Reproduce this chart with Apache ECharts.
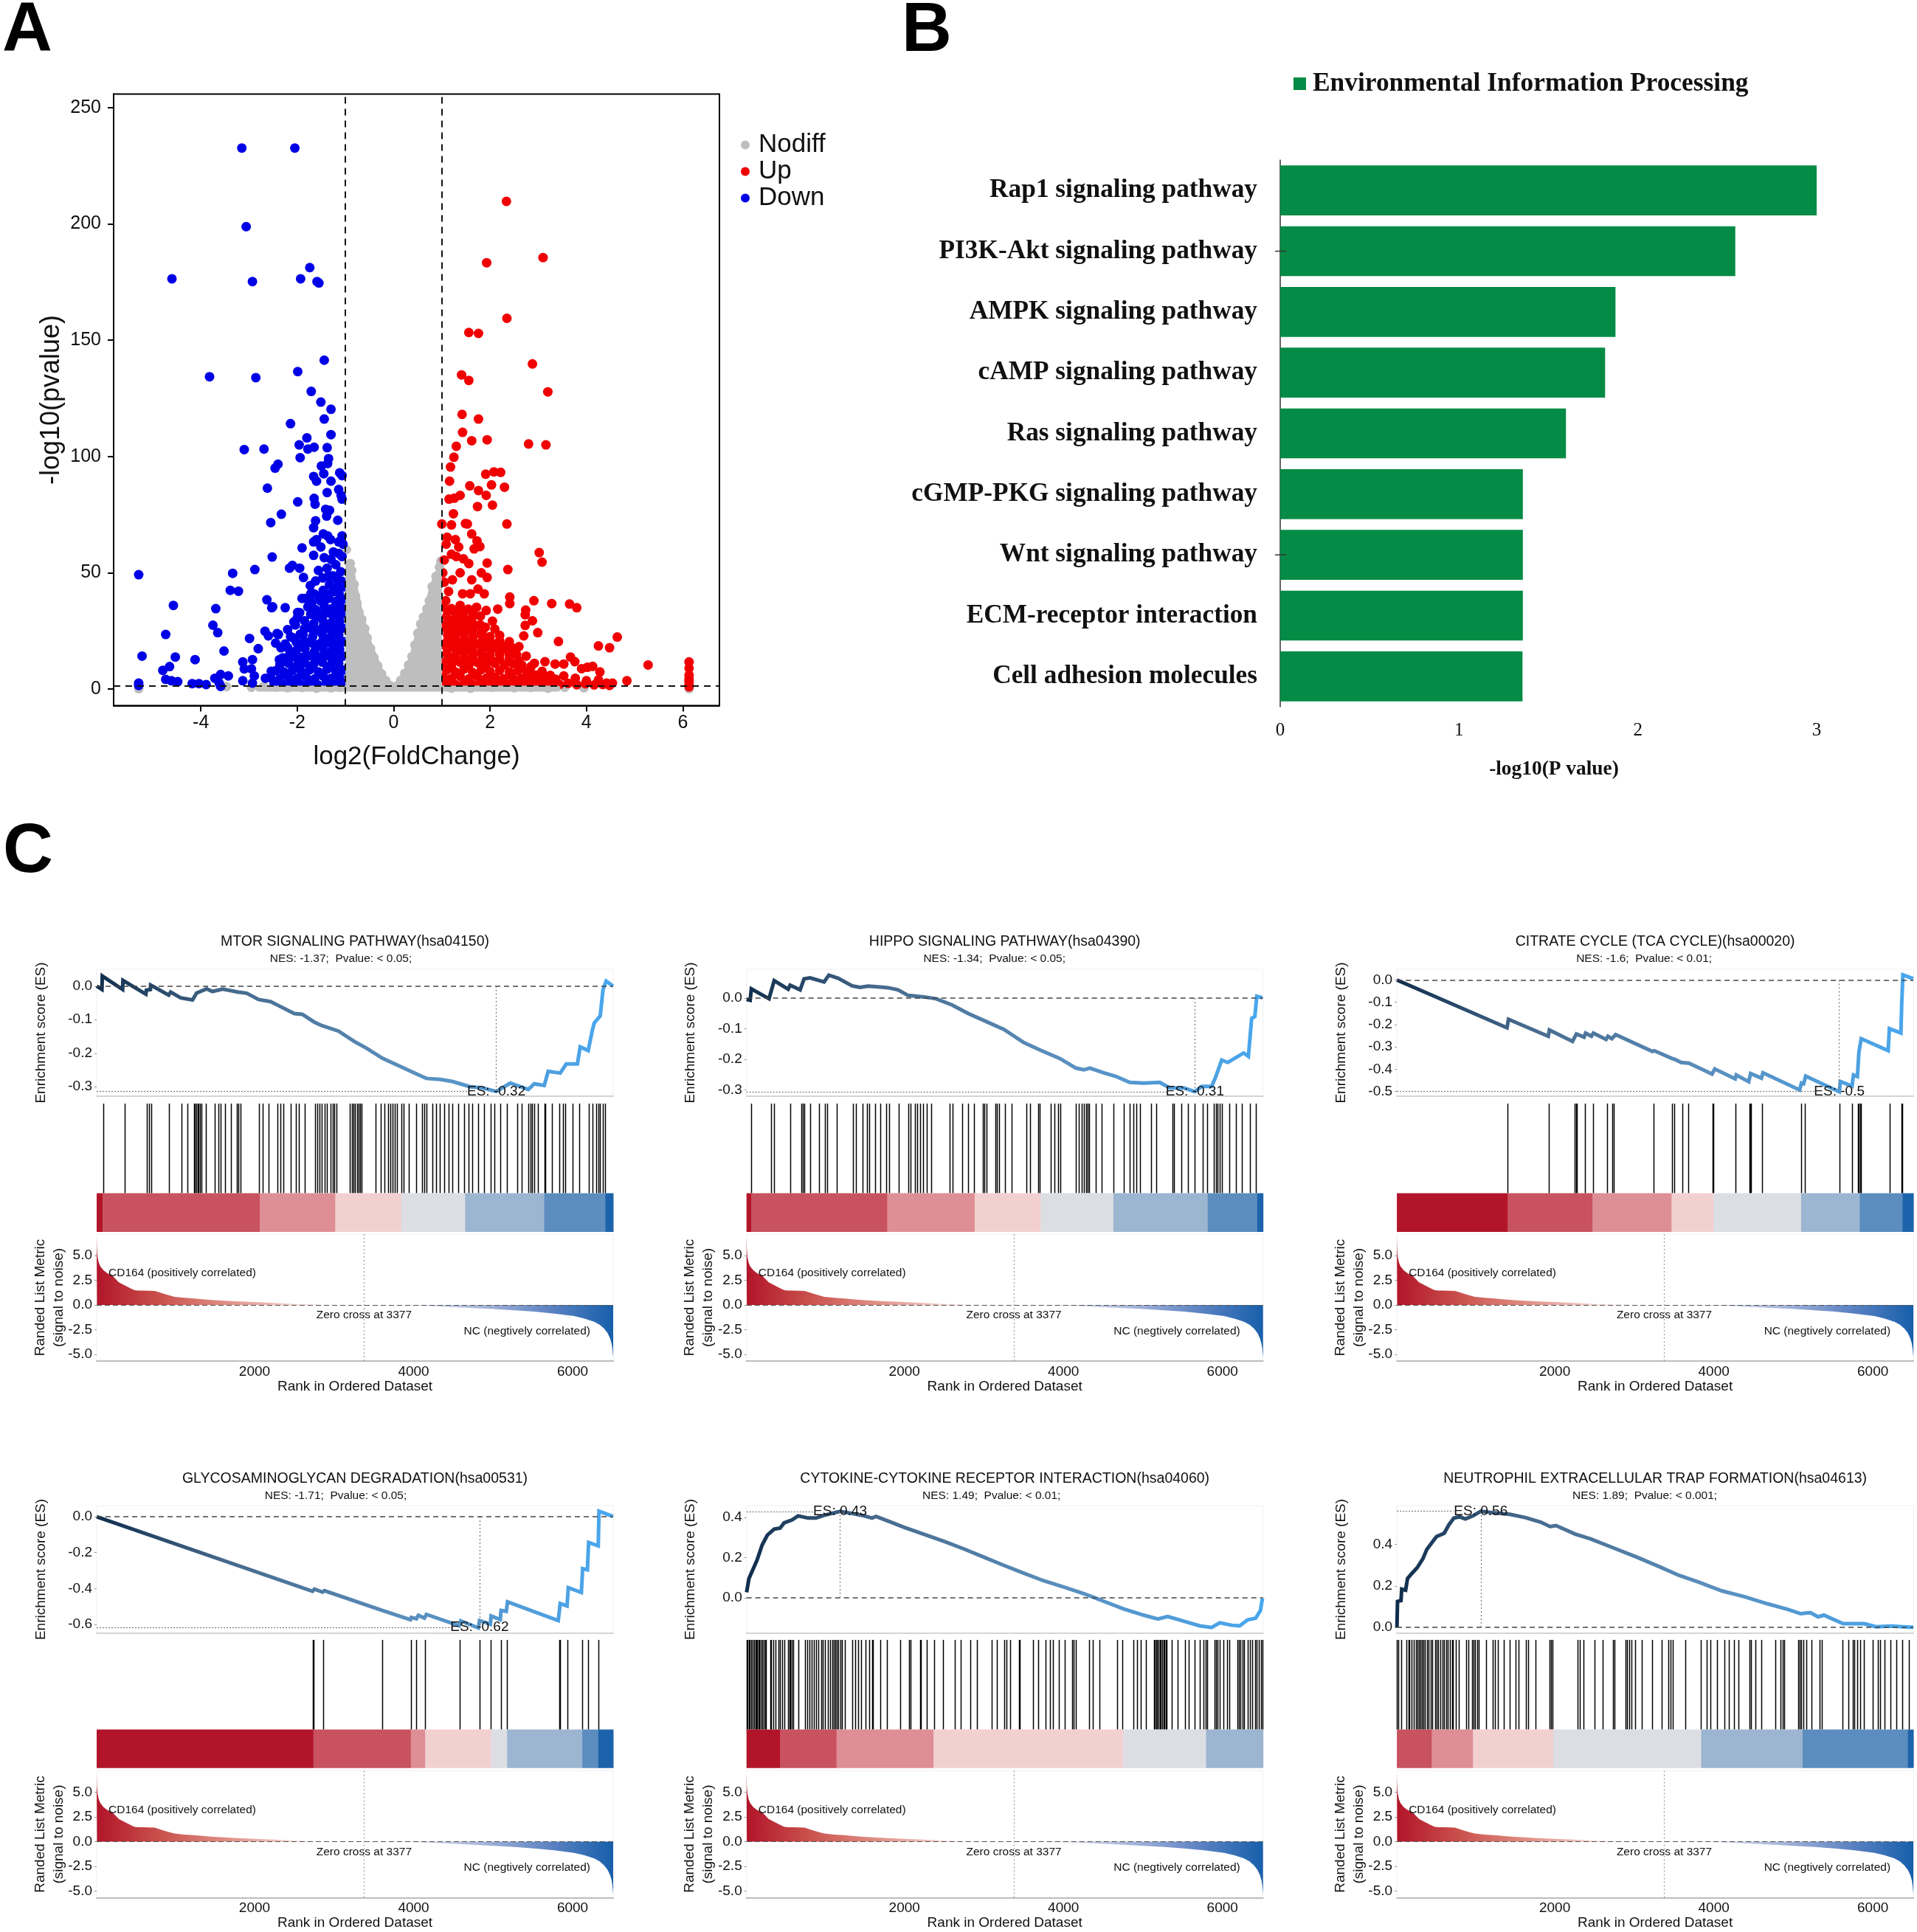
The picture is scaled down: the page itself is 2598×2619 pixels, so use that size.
<!DOCTYPE html>
<html>
<head>
<meta charset="utf-8">
<title>Volcano, pathway bars and GSEA panels</title>
<script src="https://cdn.jsdelivr.net/npm/echarts@6/dist/echarts.min.js"></script>
<style>
html, body { margin: 0; padding: 0; background: #fff; }
#main { width: 2598px; height: 2619px; }
</style>
</head>
<body>
<div id="main"></div>
<script>
// panel A, volcano points [log2FC, -log10p]
var volcanoDown = [
    [-3.15,232.6],[-2.05,232.6],[-3.06,198.8],[-1.74,181.2],[-1.93,176.4],[-4.6,176.4],[-2.93,175.2],[-1.59,175.2],[-1.55,174.6],
    [-1.44,141.4],[-1.99,136.5],[-3.82,134.3],[-2.86,133.9],[-1.71,128],[-1.51,123.4],[-1.3,120.3],[-1.44,116.1],[-2.14,114.1],
    [-1.3,109.4],[-1.8,108],[-1.96,105],[-1.65,104],[-1.78,103.2],[-3.1,103],[-2.69,103.2],[-1.38,103.8],[-1.94,99.5],[-1.35,99.1],
    [-1.37,97],[-1.5,95.9],[-2.4,96.7],[-2.46,95],[-1.12,93],[-1.07,91.8],[-1.45,92.6],[-1.66,91.4],[-1.6,89.4],[-1.3,89.4],
    [-2.62,86.4],[-1.14,85.8],[-1.38,84.5],[-1.09,83.3],[-1.07,81.7],[-1.65,82],[-1.99,80.5],[-1.63,79.5],[-1.41,77.3],[-1.33,76.9],
    [-2.33,75.2],[-1.39,74.4],[-1.62,72.4],[-1.16,72.6],[-2.55,71.6],[-1.66,69.4],[-1.46,66.7],[-1.37,65.9],[-1.07,65.9],
    [-1.66,63.3],[-1.6,64.3],[-1.31,64.3],[-1.14,63.3],[-1.05,62.3],[-1.9,60.7],[-1.51,61.1],[-1.25,59],[-1.14,58.3],
    [-1.66,57.5],[-1.44,56.5],[-1.3,55.8],[-1.07,57],[-1.2,53.5],[-1.38,52],[-1.56,51],[-1.1,50.5],[-1.26,48.7],[-1.47,47.8],
    [-1.62,46.5],[-1.08,46.4],[-1.33,45],[-1.18,43.8],[-1.73,44.5],[-1.02,44],[-2.52,56.8],[-3.34,49.8],[-2.88,51.4],[-5.29,49.2],
    [-2.1,53.2],[-2.16,52],[-1.95,52],[-1.87,48],[-1.65,41],[-1.46,42.5],[-3.39,42.5],[-3.22,42.1],[-4.57,36],[-3.69,34.6],
    [-2.63,38.4],[-2.53,35],[-2.51,35.4],[-2.25,35],[-1.9,39],[-1.83,39],
    [-1.05,38.6],[-1.2,37.7],[-1.35,39],[-1.52,38],[-1.7,37.2],[-1.1,35.2],[-1.28,34.6],[-1.44,35.8],[-1.62,34.2],[-1.78,35.4],
    [-1.04,32.4],[-1.18,31.6],[-1.36,32.8],[-1.55,31.2],[-1.72,32.2],[-1.95,32.9],[-2.0,30.6],[-1.12,29.2],[-1.3,28.4],[-1.47,29.6],
    [-1.66,28.2],[-1.85,29.4],[-1.05,26.2],[-1.22,25.4],[-1.38,26.6],[-1.57,25.2],[-1.76,26.4],[-2.04,27.6],[-1.14,23.2],[-1.3,22.4],
    [-1.48,23.6],[-1.68,22.6],[-1.88,23.4],[-2.1,22.2],[-1.04,20.4],[-1.2,19.6],[-1.4,20.8],[-1.58,19.2],[-1.75,20.2],[-1.95,19.4],
    [-1.12,17.2],[-1.28,16.4],[-1.46,17.6],[-1.64,16.2],[-1.84,17.4],[-2.02,16.6],[-1.05,14.2],[-1.22,13.4],[-1.38,14.6],[-1.56,13.2],
    [-1.72,14.4],[-1.92,13.6],[-2.12,14.1],[-2.3,13.5],[-1.14,11.2],[-1.3,10.4],[-1.48,11.6],[-1.66,10.6],[-1.84,11.3],[-2.0,10.2],
    [-2.18,11.1],[-2.36,10.5],[-1.04,8.2],[-1.2,7.6],[-1.38,8.6],[-1.56,7.4],[-1.74,8.3],[-1.92,7.7],[-2.1,8.1],[-2.28,7.4],[-2.45,7.9],
    [-1.12,5.2],[-1.3,4.6],[-1.46,5.6],[-1.64,4.4],[-1.82,5.3],[-2,4.7],[-2.18,5.1],[-2.36,4.5],[-2.55,4.9],[-1.05,2.5],[-1.22,2.1],
    [-1.4,2.8],[-1.58,1.9],[-1.76,2.6],[-1.94,2.2],[-2.12,2.7],[-2.3,2.0],[-2.48,2.4],
    [-1.13,41],[-1.27,41.8],[-1.4,40.6],[-1.13,33],[-1.27,31.8],[-1.45,33],[-1.62,31.6],[-1.13,26.8],[-1.3,25.2],[-1.47,26.6],[-1.66,25.2],[-1.85,26],
    [-1.1,20.6],[-1.3,19.6],[-1.48,20.4],[-1.66,19.4],[-1.85,20.4],[-2.02,20.2],[-1.13,14.6],[-1.3,13.6],[-1.47,14.4],[-1.64,13.4],[-1.82,14.2],[-2.02,13.6],
    [-2.2,17.8],[-1.94,23.6],[-1.56,40],[-1.72,41],[-1.35,48.6],[-1.18,47.4],
    [-3.75,27.5],[-3.65,24.3],[-4.73,23.5],[-2.99,21.8],[-2.81,17.4],[-3.52,16.4],[-2.67,24.9],[-2.6,22.9],[-2.42,23.9],[-2.39,23.5],
    [-4.53,13.8],[-5.22,14.2],[-4.12,12.7],[-4.65,9.7],[-4.79,8.1],[-4.73,4.2],[-4.61,3.6],[-4.48,3.2],[-4.18,2.4],[-4.04,2.4],
    [-3.89,2],[-5.29,2.6],[-5.29,1.6],[-3.71,4.7],[-3.59,6.3],[-3.43,5.7],[-3.62,2.6],[-3.59,1.2],[-3.13,11.7],[-2.93,12.7],[-3.1,8.7],
    [-2.95,8.7],[-2.89,5.7],[-3.13,3.6],[-2.93,2.6],[-2.66,4.7],[-2.54,7.7],[-2.25,19.4],[-2.45,19.8],[-2.34,17.8],[-2.15,15.4],[-2.37,12.7],
    [-2.07,28.9],[-1.99,33],[-2.2,25.6],[-2.14,22.6]
];
var volcanoUp = [
    [2.34,209.7],[3.1,185.5],[1.93,183.3],[2.35,159.4],[1.56,153.3],[1.76,152.9],[2.88,139.8],[1.41,135.1],[1.56,132.7],[3.2,127.8],
    [1.42,118.1],[1.76,116.1],[1.43,110.4],[1.62,106.8],[1.94,107.2],[2.8,105.4],[3.16,105],[1.3,104.4],[1.25,99.7],[1.18,95.5],
    [2.08,93.4],[2.22,93.2],[1.91,92.4],[1.16,89.4],[1.58,87.4],[2.03,87.8],[2.3,86.8],[1.76,85.4],[1.38,83.3],[1.26,82.1],[1.15,81.7],
    [1.92,83.3],[1.74,78.5],[2.05,79.1],[1.24,75.4],[2.35,71],[1.0,71],[1.2,70.6],[1.49,71.2],[1.53,71],[1.62,66.7],
    [1.11,65.3],[1.28,64.3],[1.73,63.7],[1.35,61.1],[1.09,62.3],[1.67,60.3],[1.79,61.3],[1.2,58],[1.3,57],[1.45,56],[1.05,55.5],
    [1.02,50],[1.56,54],[1.38,50],[1.22,47],[1.05,46],[1.62,47],[1.82,50],[1.94,48],[1.59,41],[1.43,41],[1.14,42],[1.08,38],[1.75,43],[1.88,41],
    [3.02,58.7],[3.08,54.6],[1.94,54.2],[2.37,51.4],[2.41,39.6],[2.41,36.8],[2.91,38],[3.28,36.8],[3.65,36.6],[3.8,35],
    [2.74,34],[2.73,32],[2.88,29.4],[2.73,27.4],[2.99,24.3],[2.7,22.9],[3.42,20.5],[4.64,22.4],[4.25,18.6],[4.48,17.8],
    [5.28,10.4],[4.84,3.6],[6.13,11.7],[6.13,9],[6.13,6],[6.13,4.4],[6.13,3.2],[6.13,2],[6.13,1],
    [3.67,13.8],[3.76,11.8],[3.14,11.8],[3.35,10.8],[3.53,10.8],[3.9,8.8],[4.02,9.4],[4.13,9.8],[4.28,7.4],[3.53,5.7],[3.77,4.7],[4.0,3.6],
    [4.25,4],[4.42,2.6],[4.54,2.6],[4.48,1.6],[3.08,7.7],[2.85,9.7],[2.92,11.1],
    [1.03,35.4],[1.2,34.6],[1.38,36],[1.55,34.4],[1.72,35.2],[1.92,33.8],[2.16,34.4],[1.1,31.2],[1.28,30.4],[1.45,31.6],[1.62,30.2],[1.8,31.4],[2.05,29.2],
    [1.04,27.2],[1.2,26.4],[1.36,27.6],[1.52,26.2],[1.7,27.4],[1.9,26.6],[2.1,25.8],[1.12,23.2],[1.28,22.4],[1.46,23.6],[1.64,22.2],[1.82,23.4],[2.0,22.6],[2.2,23.1],[2.4,20.4],
    [1.03,19.2],[1.2,18.4],[1.38,19.6],[1.56,18.2],[1.74,19.4],[1.92,18.6],[2.12,19.1],[2.3,18.4],[2.45,17.9],[2.6,18.3],
    [1.1,15.2],[1.28,14.4],[1.46,15.6],[1.64,14.2],[1.82,15.4],[2,14.6],[2.2,15.1],[2.4,14.4],[2.55,14.9],[2.75,14.2],
    [1.03,11.2],[1.2,10.4],[1.38,11.6],[1.56,10.2],[1.74,11.4],[1.92,10.6],[2.1,11.1],[2.3,10.4],[2.48,11],[2.66,10.3],[2.85,6.8],
    [1.1,8.2],[1.28,7.4],[1.46,8.6],[1.64,7.2],[1.82,8.4],[2,7.6],[2.2,8.1],[2.4,7.4],[2.58,8],[2.76,7.3],[2.95,6.1],[3.1,5.4],[3.25,5.9],
    [1.03,5.2],[1.2,4.6],[1.38,5.6],[1.56,4.4],[1.74,5.3],[1.92,4.7],[2.1,5.1],[2.28,4.5],[2.46,5.2],[2.64,4.6],[2.82,5],[3,4.4],[3.18,4.9],[3.36,4.3],
    [1.1,2.5],[1.28,2],[1.46,2.8],[1.64,1.9],[1.82,2.6],[2,2.1],[2.18,2.7],[2.36,2],[2.54,2.6],[2.72,2],[2.9,2.5],[3.08,1.9],[3.26,2.4],[3.44,2],[3.62,2.5],[3.8,1.9],[3.98,2.3],[4.16,1.8],[4.34,2],
    [1.12,33.4],[1.28,33],[1.46,33.6],[1.64,33],[1.12,29],[1.28,28.6],[1.46,29.2],[1.62,28.4],[1.8,27.6],[1.12,25],[1.3,24.6],[1.46,25.4],[1.64,24.8],[1.84,25],
    [1.12,20.8],[1.3,20.4],[1.46,21],[1.64,20.4],[1.84,20.8],[2.02,20.2],[2.2,20.8],[1.12,17.2],[1.3,16.6],[1.46,17.4],[1.64,16.6],[1.84,17.2],[2.02,16.8],[2.2,17],[2.38,16.4],
    [1.12,12.8],[1.3,12.4],[1.46,13],[1.64,12.4],[1.84,13],[2.02,12.6],[2.2,13],[2.4,12.4],[2.6,12.2]
];
var volcanoNodiff = [
    [-5.29,0.2],[-3.47,1.1],[-2.95,0.8],[-2.7,1.2],[-2.45,0.9],[-2.2,0.6],[-1.9,0.7],[-1.6,0.4],[-1.3,0.6],[-1.12,0.8],[1.2,0.5],[1.6,0.4],
    [2.05,0.8],[2.5,0.6],[2.85,0.7],[3.2,0.4],[3.55,0.8],[3.95,0.6],[6.13,0.2],
    [-0.98,60],[-0.9,54],[-0.87,51],[-0.82,45],[-0.79,40],[-0.76,37],[-0.72,33],[-0.66,30],[-0.6,26],[-0.55,22],[-0.48,17.5],[-0.41,13.6],[-0.33,10],[-0.25,6.5],
    [-0.16,3.6],[-0.08,1.6],[0.08,1.5],[0.15,3.8],[0.23,6.8],[0.31,10.4],[0.38,14],[0.44,19],[0.5,24],[0.56,28],[0.62,31],[0.69,34.5],[0.74,38],[0.8,44],[0.88,48.5],[0.95,52.5],[0.98,55]
];
var greyEnvelopeX = [-1, -0.9, -0.8, -0.7, -0.6, -0.5, -0.4, -0.3, -0.2, -0.1, 0, 0.1, 0.2, 0.3, 0.4, 0.5, 0.6, 0.7, 0.8, 0.9, 1];
var greyEnvelopeY = [55, 53, 43, 33, 26, 19, 14, 9, 5, 2, 0, 2, 5, 9, 15, 23, 29, 35, 44, 49, 54];
var greyFloorX = [-2.8, -2, -1, 0, 1, 2, 3, 3.4];
var greyFloorY = [0.2, 0.2, 0.2, 0.2, 0.2, 0.2, 0.2, 0.2];
var volcanoXTicks = [-4, -2, 0, 2, 4, 6];
var volcanoYTicks = [0, 50, 100, 150, 200, 250];

// panel B
var barNames = ['Rap1 signaling pathway', 'PI3K-Akt signaling pathway', 'AMPK signaling pathway', 'cAMP signaling pathway',
    'Ras signaling pathway', 'cGMP-PKG signaling pathway', 'Wnt signaling pathway', 'ECM-receptor interaction', 'Cell adhesion molecules'];
var barValues = [3.005, 2.545, 1.875, 1.817, 1.598, 1.357, 1.357, 1.357, 1.355];
var barStrayTicks = [1, 6];

// panel C
var gseaTitles = ['MTOR SIGNALING PATHWAY(hsa04150)', 'HIPPO SIGNALING PATHWAY(hsa04390)', 'CITRATE CYCLE (TCA CYCLE)(hsa00020)',
    'GLYCOSAMINOGLYCAN DEGRADATION(hsa00531)', 'CYTOKINE-CYTOKINE RECEPTOR INTERACTION(hsa04060)', 'NEUTROPHIL EXTRACELLULAR TRAP FORMATION(hsa04613)'];
var gseaStats = ['NES: -1.37;  Pvalue: < 0.05;', 'NES: -1.34;  Pvalue: < 0.05;', 'NES: -1.6;  Pvalue: < 0.01;',
    'NES: -1.71;  Pvalue: < 0.05;', 'NES: 1.49;  Pvalue: < 0.01;', 'NES: 1.89;  Pvalue: < 0.001;'];
var esLabels = ['ES: -0.32', 'ES: -0.31', 'ES: -0.5', 'ES: -0.62', 'ES: 0.43', 'ES: 0.56'];
var esPeakRank = [5040, 5653, 5578, 4829, 1191, 1069];
var esPeakValue = [-0.314, -0.305, -0.5, -0.617, 0.43, 0.559];
var esLineEnd = [4688, 5320, 5277, 4487, 865, 730];
var esMin = [-0.328, -0.32, -0.521, -0.649, -0.177, -0.028];
var esMax = [0.05, 0.094, 0.048, 0.062, 0.459, 0.586];
var esTicks = [[0, -0.1, -0.2, -0.3], [0, -0.1, -0.2, -0.3], [0, -0.1, -0.2, -0.3, -0.4, -0.5],
    [0, -0.2, -0.4, -0.6], [0, 0.2, 0.4], [0, 0.2, 0.4]];

var esCurve1 = [[15,0],[80,-0.01],[85,0.03],[340,-0.01],[345,0.017],[633,-0.024],[640,-0.012],[690,-0.01],[693,0.003],[920,-0.027],[945,-0.018],[1070,-0.035],[1220,-0.041],[1270,-0.021],[1397,-0.008],[1470,-0.016],[1598,-0.009],[1800,-0.018],[1900,-0.021],[2050,-0.04],[2200,-0.046],[2300,-0.058],[2500,-0.082],[2600,-0.084],[2750,-0.107],[2850,-0.118],[3055,-0.134],[3256,-0.165],[3407,-0.185],[3608,-0.215],[3809,-0.237],[4010,-0.259],[4160,-0.275],[4337,-0.278],[4487,-0.284],[4714,-0.3],[4864,-0.303],[5040,-0.314],[5216,-0.289],[5442,-0.308],[5518,-0.291],[5643,-0.296],[5693,-0.254],[5844,-0.259],[5920,-0.232],[6060,-0.232],[6095,-0.181],[6196,-0.192],[6246,-0.134],[6271,-0.11],[6347,-0.089],[6382,-0.011],[6422,0.015],[6508,0]];
var esCurve2 = [[15,-0.004],[60,-0.007],[75,0.03],[297,-0.002],[362,0.057],[538,0.029],[563,0.042],[688,0.027],[738,0.063],[814,0.066],[990,0.053],[1050,0.075],[1166,0.065],[1342,0.04],[1442,0.035],[1543,0.039],[1693,0.036],[1794,0.034],[1920,0.027],[2045,0.009],[2246,0.004],[2397,-0.002],[2598,-0.022],[2799,-0.05],[3000,-0.073],[3251,-0.102],[3502,-0.145],[3703,-0.169],[3955,-0.197],[4156,-0.228],[4256,-0.234],[4332,-0.228],[4508,-0.244],[4658,-0.255],[4834,-0.275],[5010,-0.277],[5211,-0.275],[5337,-0.293],[5513,-0.293],[5653,-0.305],[5739,-0.288],[5864,-0.288],[5915,-0.257],[5990,-0.202],[6065,-0.21],[6266,-0.179],[6326,-0.19],[6367,-0.066],[6407,-0.06],[6432,0.006],[6503,0.001]];
var esCurve3 = [[15,0],[1399,-0.214],[1418,-0.176],[1918,-0.252],[1932,-0.224],[2223,-0.275],[2271,-0.242],[2368,-0.256],[2388,-0.238],[2461,-0.252],[2485,-0.238],[2645,-0.266],[2669,-0.252],[2717,-0.263],[2766,-0.245],[3227,-0.32],[3251,-0.317],[3469,-0.351],[3517,-0.357],[3590,-0.37],[3687,-0.373],[3978,-0.422],[4012,-0.399],[4269,-0.443],[4283,-0.426],[4439,-0.456],[4463,-0.419],[4599,-0.44],[4618,-0.416],[5079,-0.493],[5103,-0.462],[5130,-0.465],[5156,-0.431],[5578,-0.501],[5592,-0.455],[5738,-0.476],[5757,-0.426],[5806,-0.433],[5825,-0.323],[5854,-0.263],[6193,-0.317],[6208,-0.218],[6353,-0.238],[6363,-0.11],[6378,0.023],[6508,0.006]];
var esCurve4 = [[15,0],[2729,-0.415],[2754,-0.403],[2854,-0.42],[2879,-0.412],[3608,-0.522],[3960,-0.573],[3970,-0.561],[4035,-0.568],[4060,-0.549],[4136,-0.565],[4161,-0.544],[4573,-0.607],[4593,-0.58],[4814,-0.619],[4829,-0.578],[4965,-0.599],[4975,-0.553],[5090,-0.573],[5100,-0.522],[5166,-0.527],[5181,-0.474],[5819,-0.578],[5844,-0.483],[5930,-0.497],[5945,-0.395],[6110,-0.422],[6126,-0.289],[6186,-0.296],[6201,-0.143],[6322,-0.162],[6332,0.031],[6508,0.002]];
var esCurve5 = [[15,0.027],[45,0.096],[95,0.141],[146,0.187],[211,0.263],[276,0.312],[362,0.342],[437,0.347],[487,0.373],[588,0.388],[663,0.408],[789,0.397],[889,0.397],[990,0.411],[1191,0.43],[1342,0.42],[1492,0.408],[1593,0.397],[1643,0.405],[1794,0.382],[1995,0.351],[2246,0.316],[2497,0.281],[2749,0.243],[3000,0.202],[3251,0.161],[3502,0.122],[3754,0.084],[4005,0.053],[4256,0.02],[4382,0.002],[4508,-0.018],[4759,-0.056],[5010,-0.087],[5186,-0.106],[5312,-0.094],[5513,-0.117],[5714,-0.14],[5864,-0.148],[5965,-0.125],[6116,-0.137],[6216,-0.14],[6317,-0.11],[6417,-0.102],[6477,-0.064],[6503,-0.003]];
var esCurve6 = [[15,0],[22,0.125],[66,0.129],[75,0.184],[124,0.179],[148,0.235],[196,0.257],[269,0.287],[342,0.331],[390,0.375],[463,0.412],[512,0.437],[609,0.453],[667,0.493],[730,0.526],[802,0.532],[875,0.522],[972,0.537],[1069,0.559],[1239,0.551],[1433,0.544],[1627,0.529],[1821,0.507],[1942,0.485],[2015,0.49],[2257,0.449],[2451,0.426],[2742,0.382],[3033,0.338],[3323,0.291],[3566,0.25],[3808,0.218],[4099,0.176],[4390,0.147],[4681,0.113],[4923,0.088],[5093,0.066],[5214,0.071],[5311,0.051],[5384,0.059],[5626,0.018],[5893,0.018],[6038,0.003],[6232,0.007],[6378,0.003],[6508,0]];
var esCurves = [esCurve1, esCurve2, esCurve3, esCurve4, esCurve5, esCurve6];

var rugRanks1 = [96,362,643,673,703,920,1080,1156,1236,1251,1266,1281,1297,1312,1332,1387,1498,1548,1573,1628,1699,1774,1799,1824,2060,2100,2176,2291,2327,2362,2452,2518,2553,2628,2764,2789,2814,2844,2879,2905,2955,2980,3005,3030,3196,3221,3246,3266,3286,3307,3327,3347,3523,3583,3633,3683,3709,3734,3759,3794,3849,3874,3935,4035,4111,4136,4161,4236,4286,4327,4387,4437,4487,4563,4638,4688,4739,4814,4889,4965,5015,5090,5176,5306,5357,5442,5467,5492,5518,5568,5643,5658,5744,5829,5879,5909,5995,6080,6206,6246,6296,6322,6347,6382,6412];
var rugRanks2 = [75,322,362,563,704,724,744,814,930,1005,1025,1146,1352,1392,1477,1528,1558,1628,1694,1774,1804,1930,2045,2075,2136,2156,2196,2236,2281,2337,2573,2608,2724,2799,2879,2985,3005,3030,3141,3166,3191,3261,3352,3538,3578,3678,3704,3844,3884,3930,3965,4156,4191,4231,4256,4286,4307,4327,4407,4482,4633,4759,4834,4884,4920,4960,5100,5171,5372,5392,5487,5563,5653,5754,5804,5889,5915,5940,5965,5990,6090,6166,6241,6342,6417];
var rugRanks3 = [1408,1922,2252,2266,2281,2378,2480,2654,2727,2741,3246,3473,3503,3600,3677,3982,3997,4273,4448,4458,4472,4608,5098,5146,5582,5738,5810,5825,5839,5854,6208,6358,6368];
var rugRanks4 = [2729,2744,2864,3608,3970,4035,4146,4583,4829,4970,5095,5171,5834,5844,5935,6116,6191,6322];
var rugRanks5 = [15,30,45,55,75,90,106,126,141,151,166,176,191,211,226,246,261,312,327,347,377,412,437,462,487,538,553,568,583,598,663,749,779,809,829,864,889,915,950,975,1000,1040,1070,1091,1111,1131,1151,1171,1191,1216,1251,1342,1382,1417,1452,1508,1553,1593,1608,1694,1784,1950,2055,2080,2196,2211,2281,2372,2482,2633,2704,2824,2910,3101,3161,3251,3286,3327,3442,3452,3613,3678,3779,3829,3864,3945,4020,4106,4131,4156,4322,4367,4457,4673,4744,4884,4925,4970,5035,5136,5151,5166,5181,5196,5211,5226,5241,5256,5271,5286,5301,5362,5437,5528,5573,5653,5714,5764,5789,5804,5904,5919,5940,5965,6015,6055,6090,6191,6206,6226,6256,6276,6317,6342,6377,6407,6432,6457,6482,6502];
var rugRanks6 = [17,31,65,138,157,172,196,230,250,269,288,308,327,347,366,390,414,439,463,492,511,536,560,584,608,633,657,681,705,720,754,793,889,914,957,982,1001,1020,1045,1132,1219,1248,1287,1360,1432,1505,1544,1636,1665,1762,1932,1951,1971,2286,2315,2363,2499,2606,2732,2751,2887,2911,2935,2960,3008,3095,3226,3347,3430,3459,3488,3638,3832,3915,3953,4041,4138,4186,4254,4307,4448,4472,4521,4594,4778,4836,4865,4884,5059,5083,5102,5127,5165,5224,5335,5359,5616,5689,5747,5771,5805,5844,5883,5999,6062,6096,6145,6222,6295,6368,6450];
var rugRanks = [rugRanks1, rugRanks2, rugRanks3, rugRanks4, rugRanks5, rugRanks6];

// edges of the coloured hit band
var heatEdges = [
    [14,90,2065,3015,3844,4648,5643,6412,6510],
    [14,75,1784,2884,3714,4628,5814,6437,6510],
    [14,1408,2475,3469,3997,5098,5835,6373,6510],
    [14,2739,3965,4146,4975,5176,6121,6322,6510],
    [14,437,1146,2367,4749,5794,6510],
    [14,453,972,1980,3842,5117,6441,6510]
];
var heatFirstColour = [0, 0, 0, 0, 0, 1];

var metricRanks = [14, 18, 25, 40, 60, 100, 150, 206, 250, 292, 350, 400, 450, 492, 540, 600, 680, 744, 800, 850, 920, 995, 1120, 1246, 1370, 1497, 1750, 2000, 2250, 2500, 2900, 3377, 4000, 4250, 4512, 4760, 5015, 5270, 5518, 5770, 6020, 6150, 6271, 6340, 6397, 6440, 6472, 6490, 6500, 6507, 6510];
var metricValues = [6.8, 5.6, 4.9, 4.3, 3.9, 3.5, 3.2, 3.0, 2.65, 2.3, 2.05, 1.85, 1.65, 1.5, 1.46, 1.45, 1.44, 1.42, 1.28, 1.15, 0.98, 0.82, 0.72, 0.65, 0.56, 0.48, 0.38, 0.29, 0.2, 0.1, 0.04, 0, -0.05, -0.13, -0.23, -0.32, -0.42, -0.54, -0.68, -0.88, -1.13, -1.38, -1.7, -2.0, -2.4, -2.85, -3.4, -3.9, -4.4, -5.0, -5.3];
var metricTicks = [5, 2.5, 0, -2.5, -5];
var rankTicks = [2000, 4000, 6000];

var heatPalette = ['#b2152a', '#c8525f', '#de8e95', '#f3d0d0', '#dcdee3', '#9cb5d1', '#5c8dbf', '#1c63ab'];
var SANS = '"Liberation Sans", Arial, sans-serif';
var SERIF = '"Liberation Serif", "Times New Roman", serif';

var grids = [], xAxes = [], yAxes = [], series = [], titles = [];

function hGradient(stops) {
    return new echarts.graphic.LinearGradient(0, 0, 1, 0, stops);
}
function zip(xs, ys) {
    return xs.map(function (x, i) { return [x, ys[i]]; });
}
function addGrid(box, xAxis, yAxis) {
    var idx = grids.length;
    grids.push(box);
    xAxis.gridIndex = idx;
    yAxis.gridIndex = idx;
    xAxes.push(xAxis);
    yAxes.push(yAxis);
    return idx;
}

// A
function addVolcano() {
    var g = addGrid(
        { left: 154, top: 127.5, width: 821, height: 829, show: true, borderColor: '#000', borderWidth: 2, backgroundColor: '#fff' },
        {
            type: 'value', min: -5.81, max: 6.76, splitLine: { show: false }, name: 'log2(FoldChange)', nameLocation: 'middle', nameGap: 52,
            nameMoveOverlap: false,
            nameTextStyle: { fontFamily: SANS, fontSize: 35, color: '#111' },
            axisLine: { onZero: false, lineStyle: { color: '#000', width: 2 } },
            axisTick: { customValues: volcanoXTicks, length: 8, lineStyle: { color: '#000', width: 2 } },
            axisLabel: { customValues: volcanoXTicks, fontFamily: SANS, fontSize: 25, color: '#111', margin: 11 }
        },
        {
            type: 'value', min: -7.07, max: 255.8, splitLine: { show: false }, name: '-log10(pvalue)', nameLocation: 'middle', nameGap: 66,
            nameMoveOverlap: false,
            nameTextStyle: { fontFamily: SANS, fontSize: 36, color: '#111' },
            axisLine: { onZero: false, lineStyle: { color: '#000', width: 2 } },
            axisTick: { customValues: volcanoYTicks, length: 8, lineStyle: { color: '#000', width: 2 } },
            axisLabel: { customValues: volcanoYTicks, fontFamily: SANS, fontSize: 25, color: '#111', margin: 17 }
        }
    );
    var grey = '#bebebe';
    series.push({
        name: 'Nodiff', type: 'line', xAxisIndex: g, yAxisIndex: g, data: zip(greyEnvelopeX, greyEnvelopeY), showSymbol: false, silent: true,
        lineStyle: { color: grey, width: 8 }, itemStyle: { color: grey }, areaStyle: { color: grey, opacity: 1 }
    });
    series.push({
        name: 'Nodiff', type: 'line', xAxisIndex: g, yAxisIndex: g, data: zip(greyFloorX, greyFloorY), showSymbol: false, silent: true,
        lineStyle: { color: grey, width: 8, cap: 'round' }, itemStyle: { color: grey }
    });
    series.push({ name: 'Nodiff', type: 'scatter', xAxisIndex: g, yAxisIndex: g, data: volcanoNodiff, symbolSize: 13, itemStyle: { color: grey, opacity: 1 } });
    series.push({
        name: 'Up', type: 'scatter', xAxisIndex: g, yAxisIndex: g, data: volcanoUp, symbolSize: 13, itemStyle: { color: '#f00000', opacity: 1 }
    });
    series.push({
        name: 'Down', type: 'scatter', xAxisIndex: g, yAxisIndex: g, data: volcanoDown, symbolSize: 13, itemStyle: { color: '#0000e6', opacity: 1 },
        markLine: {
            silent: true, symbol: 'none', animation: false, label: { show: false },
            lineStyle: { color: '#111', type: [9, 7], width: 2 },
            data: [{ xAxis: -1 }, { xAxis: 1 }, { yAxis: 1.4 }]
        }
    });
}

// B
function addBars() {
    var g = addGrid(
        { left: 1735, top: 217, width: 727, height: 741 },
        {
            type: 'value', min: 0, max: 3, interval: 1, splitLine: { show: false }, name: '-log10(P value)', nameLocation: 'middle', nameGap: 71,
            nameMoveOverlap: false,
            nameTextStyle: { fontFamily: SERIF, fontSize: 27.4, fontWeight: 'bold', color: '#111', padding: [0, 0, 0, 15] },
            axisLine: { lineStyle: { color: '#333', width: 1.5 } }, axisTick: { length: 8, lineStyle: { color: '#333', width: 1.5 } },
            axisLabel: { fontFamily: SERIF, fontSize: 25, color: '#111', margin: 20 }
        },
        {
            type: 'category', inverse: true, data: barNames,
            axisLine: { lineStyle: { color: '#333', width: 1.5 } }, axisTick: { show: false },
            axisLabel: { fontFamily: SERIF, fontSize: 35.3, fontWeight: 'bold', color: '#111', margin: 31, interval: 0 }
        }
    );
    series.push({
        name: 'Environmental Information Processing', type: 'bar', xAxisIndex: g, yAxisIndex: g, data: barValues,
        barCategoryGap: '17.8%', itemStyle: { color: '#048b45' }
    });
    // two leftover tick dashes on the category axis
    series.push({
        type: 'custom', xAxisIndex: g, yAxisIndex: g, silent: true, clip: false, z: 5,
        data: barStrayTicks.map(function (k) { return [0, k]; }), encode: { x: 0, y: 1 },
        renderItem: function (params, api) {
            var c = api.coord([0, api.value(1)]);
            return { type: 'line', shape: { x1: c[0] - 7, y1: c[1], x2: c[0] + 8, y2: c[1] }, style: { stroke: '#333', lineWidth: 1.5 } };
        }
    });
}

// C, one GSEA stack: running score, hit rug, hit band, ranked metric
var colLeft = [131, 1011.7, 1893.1];
var statShift = [-19, -14, -15, -26, -18, -14];
var rowTop = [
    { title: 1267, es: 1314, esH: 172, rug: 1496, rugH: 121.5, heat: 1617.5, heatH: 52.5, metric: 1673, metricH: 172 },
    { title: 1994.5, es: 2041, esH: 173, rug: 2223, rugH: 121.6, heat: 2344.6, heatH: 52.1, metric: 2400.5, metricH: 172.1 }
];
var PANEL_W = 700;

function hiddenX() {
    return { type: 'value', min: 14, max: 6510, show: false, splitLine: { show: false } };
}
function unitY() {
    return { type: 'value', min: 0, max: 1, show: false, splitLine: { show: false } };
}

function addGsea(i) {
    var left = colLeft[i % 3], row = rowTop[Math.floor(i / 3)];

    titles.push({
        left: left + PANEL_W / 2, top: row.title, textAlign: 'center', padding: 0,
        text: gseaTitles[i],
        textStyle: { fontFamily: SANS, fontSize: 19.5, fontWeight: 'normal', color: '#111' }
    });
    titles.push({
        left: left + PANEL_W / 2 + statShift[i], top: row.title + 25, textAlign: 'center', padding: 0,
        text: gseaStats[i],
        textStyle: { fontFamily: SANS, fontSize: 15.5, fontWeight: 'normal', color: '#111' }
    });

    var g1 = addGrid(
        { left: left, top: row.es, width: PANEL_W, height: row.esH, show: true, borderColor: '#f0f0f0', borderWidth: 1 },
        {
            type: 'value', min: 14, max: 6510, splitLine: { show: false }, axisLabel: { show: false }, axisTick: { show: false },
            axisLine: { onZero: false, lineStyle: { color: '#d4d4d4', width: 2 } }
        },
        {
            type: 'value', min: esMin[i], max: esMax[i], splitLine: { show: false }, name: 'Enrichment score (ES)', nameLocation: 'middle', nameGap: 66,
            nameMoveOverlap: false,
            nameTextStyle: { fontFamily: SANS, fontSize: 19, color: '#111' },
            axisLine: { show: false }, axisTick: { customValues: esTicks[i], length: 3, lineStyle: { color: '#999' } },
            axisLabel: { customValues: esTicks[i], fontFamily: SANS, fontSize: 19, color: '#111', margin: 6, formatter: function (v) { return v.toFixed(1); } }
        }
    );
    series.push({
        type: 'line', xAxisIndex: g1, yAxisIndex: g1, data: esCurves[i], showSymbol: false, silent: true, z: 3,
        lineStyle: { width: 5, join: 'miter', color: hGradient([
            { offset: 0, color: '#0f2c4c' }, { offset: 0.25, color: '#466a8c' }, { offset: 0.6, color: '#5a8ebc' }, { offset: 1, color: '#48a8f0' }
        ]) },
        markLine: {
            silent: true, symbol: 'none', animation: false, label: { show: false },
            data: [
                { yAxis: 0, lineStyle: { color: '#444', type: [7, 5], width: 1.5 } },
                [{ coord: [esPeakRank[i], 0], lineStyle: { color: '#777', type: [2, 3], width: 1.2 } }, { coord: [esPeakRank[i], esPeakValue[i]] }],
                [{ coord: [14, esPeakValue[i]], lineStyle: { color: '#777', type: [2, 2], width: 1.2 } }, { coord: [esLineEnd[i], esPeakValue[i]] }]
            ]
        },
        markPoint: {
            silent: true, animation: false, symbol: 'circle', symbolSize: 0, z: 6,
            data: [{ coord: [esPeakRank[i], esPeakValue[i]], label: { show: true, position: 'inside', formatter: esLabels[i], fontFamily: SANS, fontSize: 19, color: '#111' } }]
        }
    });

    var g2 = addGrid({ left: left, top: row.rug, width: PANEL_W, height: row.rugH }, hiddenX(), unitY());
    series.push({
        type: 'custom', xAxisIndex: g2, yAxisIndex: g2, silent: true,
        data: rugRanks[i].map(function (r) { return [r]; }), encode: { x: 0 },
        renderItem: function (params, api) {
            var x = Math.round(api.coord([api.value(0), 0])[0]) + 0.5;
            var y0 = api.coord([14, 0])[1], y1 = api.coord([14, 1])[1];
            return { type: 'line', shape: { x1: x, y1: y0, x2: x, y2: y1 }, style: { stroke: '#000', lineWidth: 1.5 } };
        }
    });

    var g3 = addGrid({ left: left, top: row.heat, width: PANEL_W, height: row.heatH }, hiddenX(), unitY());
    var edges = heatEdges[i];
    series.push({
        type: 'custom', xAxisIndex: g3, yAxisIndex: g3, silent: true,
        data: edges.slice(0, -1).map(function (e, k) { return [e, edges[k + 1], heatFirstColour[i] + k]; }), encode: { x: [0, 1] },
        renderItem: function (params, api) {
            var a = api.coord([api.value(0), 1]), b = api.coord([api.value(1), 0]);
            return { type: 'rect', shape: { x: a[0], y: a[1], width: b[0] - a[0] + 0.5, height: b[1] - a[1] }, style: { fill: heatPalette[api.value(2)] } };
        }
    });

    var g4 = addGrid(
        { left: left, top: row.metric, width: PANEL_W, height: row.metricH, show: true, borderColor: '#f0f0f0', borderWidth: 1 },
        {
            type: 'value', min: 14, max: 6510, splitLine: { show: false }, name: 'Rank in Ordered Dataset', nameLocation: 'middle', nameGap: 25,
            nameMoveOverlap: false,
            nameTextStyle: { fontFamily: SANS, fontSize: 19, color: '#111' },
            axisLine: { onZero: false, lineStyle: { color: '#bdbdbd', width: 2 } }, axisTick: { show: false },
            axisLabel: { customValues: rankTicks, fontFamily: SANS, fontSize: 19, color: '#111', margin: 5, formatter: function (v) { return String(v); } }
        },
        {
            type: 'value', min: -5.68, max: 7.17, splitLine: { show: false }, name: 'Randed List Metric\n(signal to noise)', nameLocation: 'middle', nameGap: 39,
            nameMoveOverlap: false,
            nameTextStyle: { fontFamily: SANS, fontSize: 19, color: '#111', lineHeight: 25 },
            axisLine: { show: false }, axisTick: { customValues: metricTicks, length: 3, lineStyle: { color: '#999' } },
            axisLabel: { customValues: metricTicks, fontFamily: SANS, fontSize: 19, color: '#111', margin: 6, formatter: function (v) { return v.toFixed(1); } }
        }
    );
    series.push({
        type: 'line', xAxisIndex: g4, yAxisIndex: g4, data: zip(metricRanks, metricValues), showSymbol: false, silent: true,
        lineStyle: { width: 0 },
        areaStyle: { opacity: 1, color: hGradient([
            { offset: 0, color: '#b2152a' }, { offset: 0.12, color: '#c9504c' }, { offset: 0.25, color: '#e08e84' }, { offset: 0.42, color: '#f8e3df' },
            { offset: 0.5, color: '#ffffff' }, { offset: 0.62, color: '#d8dcee' }, { offset: 0.75, color: '#a4b3d9' }, { offset: 0.88, color: '#5b82c2' }, { offset: 1, color: '#175fab' }
        ]) },
        markLine: {
            silent: true, symbol: 'none', animation: false, label: { show: false },
            data: [
                { yAxis: 0, lineStyle: { color: '#555', type: [7, 4], width: 1.2 } },
                { xAxis: 3377, lineStyle: { color: '#999', type: [2, 3], width: 1.2 } }
            ]
        },
        markPoint: {
            silent: true, animation: false, symbol: 'circle', symbolSize: 0,
            data: [
                { coord: [163, 3.2], label: { show: true, position: 'right', distance: 0, formatter: 'CD164 (positively correlated)', fontFamily: SANS, fontSize: 15.5, color: '#111' } },
                { coord: [3377, -1.05], label: { show: true, position: 'inside', formatter: 'Zero cross at 3377', fontFamily: SANS, fontSize: 15.5, color: '#111' } },
                { coord: [6222, -2.65], label: { show: true, position: 'left', distance: 0, formatter: 'NC (negtively correlated)', fontFamily: SANS, fontSize: 15.5, color: '#111' } }
            ]
        }
    });
}

addVolcano();
addBars();
for (var p = 0; p < 6; p++) {
    addGsea(p);
}

// panel letters
['A', 'B', 'C'].forEach(function (letter, i) {
    var spot = [[3, -4], [1222, -4], [4, 1109]][i];
    titles.push({ text: letter, left: spot[0], top: spot[1], padding: 0, textStyle: { fontFamily: SANS, fontSize: 94, fontWeight: 'bold', color: '#000' } });
});

var chart = echarts.init(document.getElementById('main'), null, { renderer: 'canvas' });
chart.setOption({
    animation: false,
    backgroundColor: '#fff',
    title: titles,
    legend: [{
        data: [{ name: 'Nodiff', icon: 'circle' }, { name: 'Up', icon: 'circle' }, { name: 'Down', icon: 'circle' }],
        orient: 'vertical', left: 1004, top: 179, padding: 0, itemGap: 1, itemWidth: 12, itemHeight: 12, selectedMode: false,
        textStyle: { fontFamily: SANS, fontSize: 35, color: '#111', lineHeight: 34, padding: [0, 0, 0, 7] }
    }, {
        data: [{ name: 'Environmental Information Processing', icon: 'rect' }],
        left: 1753, top: 96, padding: 0, itemWidth: 17, itemHeight: 17, selectedMode: false,
        textStyle: { fontFamily: SERIF, fontSize: 35.4, fontWeight: 'bold', color: '#111', padding: [0, 0, 0, 4] }
    }],
    grid: grids,
    xAxis: xAxes,
    yAxis: yAxes,
    series: series
});
</script>
</body>
</html>
